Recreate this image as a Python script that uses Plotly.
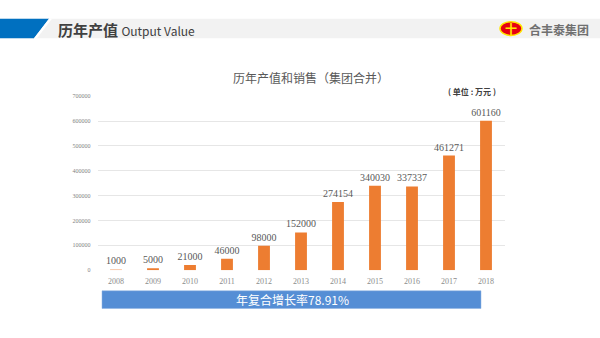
import plotly.graph_objects as go

years = ["2008", "2009", "2010", "2011", "2012", "2013", "2014", "2015", "2016", "2017", "2018"]
values = [1000, 5000, 21000, 46000, 98000, 152000, 274154, 340030, 337337, 461271, 601160]
y_ticks = [0, 100000, 200000, 300000, 400000, 500000, 600000, 700000]

W, H = 600, 338
def px(x): return x / W
def py(y): return 1 - y / H

colors = ["#F6BE98"] + ["#ED7D31"] * (len(years) - 1)

fig = go.Figure()
fig.add_trace(go.Bar(
    x=years, y=values, marker_color=colors, marker_line_width=0,
    text=[str(v) for v in values], textposition="outside", constraintext="none",
    textfont=dict(family="Liberation Serif", size=10, color="#595959"),
    cliponaxis=False, width=0.32,
))

fig.update_layout(
    width=W, height=H, margin=dict(l=0, r=0, t=0, b=0),
    paper_bgcolor="white", plot_bgcolor="white", showlegend=False,
    xaxis=dict(domain=[px(97.5), px(504.5)], type="category",
               tickfont=dict(family="Liberation Serif", size=8, color="#8c8c8c"),
               showgrid=False, zeroline=False, showline=False, ticks="",
               ticklabelstandoff=5),
    yaxis=dict(domain=[py(272), py(95)], range=[0, 700000], tickvals=y_ticks,
               ticktext=[str(v) for v in y_ticks],
               tickfont=dict(family="Liberation Serif", size=6, color="#7f7f7f"),
               showgrid=True, gridcolor="#e6e6e6", gridwidth=1, zeroline=False,
               showline=False, ticks="", ticklabelstandoff=6),
)

shapes = []
shapes.append(dict(type="rect", xref="paper", yref="paper", x0=0, x1=1, y0=py(36), y1=py(16),
                   fillcolor="#F2F2F2", line_width=0, layer="below"))
shapes.append(dict(type="path", xref="paper", yref="paper",
                   path=f"M 0 {py(16)} L {px(49)} {py(16)} L {px(34)} {py(36)} L 0 {py(36)} Z",
                   fillcolor="#0070C0", line_width=0))
shapes.append(dict(type="path", xref="paper", yref="paper",
                   path=f"M {px(49)} {py(16)} L {px(52)} {py(16)} L {px(37)} {py(36)} L {px(34)} {py(36)} Z",
                   fillcolor="white", line_width=0))
shapes.append(dict(type="circle", xref="paper", yref="paper", x0=px(500), x1=px(522), y0=py(33), y1=py(19),
                   fillcolor="#E60012", line=dict(color="#FFE600", width=1.5)))
shapes.append(dict(type="rect", xref="paper", yref="paper", x0=px(102), x1=px(481), y0=py(311), y1=py(293),
                   fillcolor="#558ED5", line=dict(color="#8DB3E2", width=0.5)))
fig.update_layout(shapes=shapes)

ann = []
ann.append(dict(x=px(56), y=py(26.5), xref="paper", yref="paper", xanchor="left", yanchor="middle",
                text="<b>历年产值</b> <span style='font-size:12px'>Output Value</span>", showarrow=False,
                font=dict(family="Noto Sans CJK SC", size=15, color="#404040")))
ann.append(dict(x=px(511), y=py(26), xref="paper", yref="paper", xanchor="center", yanchor="middle",
                text="<b>十</b>", showarrow=False,
                font=dict(family="Noto Sans CJK SC", size=12, color="#FFE600")))
ann.append(dict(x=px(527), y=py(26.5), xref="paper", yref="paper", xanchor="left", yanchor="middle",
                text="<b>合丰泰集团</b>", showarrow=False,
                font=dict(family="Noto Sans CJK SC", size=12, color="#707070")))
ann.append(dict(x=px(311), y=py(76), xref="paper", yref="paper", xanchor="center", yanchor="middle",
                text="历年产值和销售（集团合并）", showarrow=False,
                font=dict(family="Noto Sans CJK SC", size=12, color="#595959")))
ann.append(dict(x=px(498), y=py(90), xref="paper", yref="paper", xanchor="right", yanchor="middle",
                text="<b>( 单位 : 万元 )</b>", showarrow=False,
                font=dict(family="Noto Sans CJK SC", size=8, color="#404040")))
ann.append(dict(x=px(292), y=py(302), xref="paper", yref="paper", xanchor="center", yanchor="middle",
                text="年复合增长率78.91%", showarrow=False,
                font=dict(family="Noto Sans CJK SC", size=12, color="white")))
fig.update_layout(annotations=ann)

fig.write_html("out.html")
